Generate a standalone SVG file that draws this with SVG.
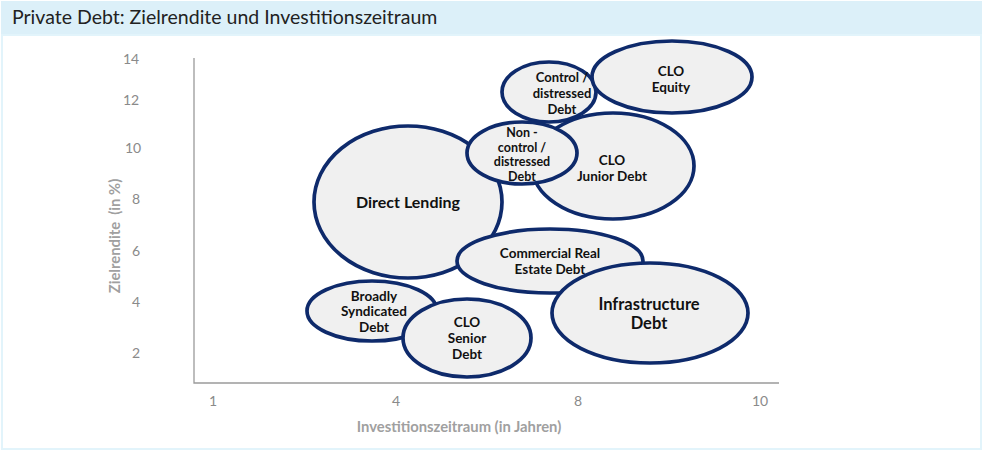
<svg xmlns="http://www.w3.org/2000/svg" width="984" height="451" viewBox="0 0 984 451">
<style>
.bub{fill:#f0f0f0;stroke:#0e2a6b;stroke-width:3.7}
.lbl{font-family:Lato,"Liberation Sans",sans-serif;font-weight:bold;fill:#111;text-anchor:middle}
.tick{font-family:Lato,"Liberation Sans",sans-serif;fill:#8a8a8a;font-size:14px;text-anchor:middle}
.ax{font-family:Lato,"Liberation Sans",sans-serif;fill:#a0a0a0;font-size:14.8px;font-weight:bold;text-anchor:middle}
</style>
<rect x="0" y="0" width="984" height="451" fill="#ffffff"/>
<rect x="1" y="1" width="981" height="33" fill="#dcf0f9"/>
<rect x="2" y="35" width="979" height="414" fill="#ffffff" stroke="#e2f4fb" stroke-width="2"/>
<text x="12" y="24" font-family="Lato,'Liberation Sans',sans-serif" font-size="19.5" fill="#222">Private Debt: Zielrendite und Investitionszeitraum</text>
<g id="axes">
<path d="M194 58 V383 H779" fill="none" stroke="#9a9a9a" stroke-width="1.3"/>
<text class="tick" x="131" y="64">14</text>
<text class="tick" x="131" y="105">12</text>
<text class="tick" x="133" y="153">10</text>
<text class="tick" x="136" y="204">8</text>
<text class="tick" x="136" y="256">6</text>
<text class="tick" x="136" y="307">4</text>
<text class="tick" x="136" y="358">2</text>
<text class="tick" x="213" y="406">1</text>
<text class="tick" x="396" y="406">4</text>
<text class="tick" x="578" y="406">8</text>
<text class="tick" x="760" y="406">10</text>
<text class="ax" x="459" y="432">Investitionszeitraum (in Jahren)</text>
<text class="ax" transform="translate(120,236) rotate(-90)" xml:space="preserve">Zielrendite  (in %)</text>
</g>
<g id="connectors"></g>
<g id="direct-lending">
<ellipse class="bub" cx="408" cy="202" rx="94" ry="76"/>
<text class="lbl" x="408" y="208" font-size="16">Direct Lending</text>
</g>
<g id="clo-junior-debt">
<ellipse class="bub" cx="613" cy="166" rx="81" ry="53"/>
<text class="lbl" font-size="13.5"><tspan x="612" y="165">CLO</tspan><tspan x="612" y="181">Junior Debt</tspan></text>
</g>
<g id="control-distressed-debt">
<ellipse class="bub" cx="549" cy="92" rx="47" ry="30"/>
<text class="lbl" font-size="13"><tspan x="562" y="82">Control /</tspan><tspan x="562" y="98">distressed</tspan><tspan x="562" y="114">Debt</tspan></text>
</g>
<g id="clo-equity">
<ellipse class="bub" cx="672" cy="77" rx="80" ry="36"/>
<text class="lbl" font-size="13.5"><tspan x="671" y="76">CLO</tspan><tspan x="671" y="92">Equity</tspan></text>
</g>
<g id="non-control-distressed-debt">
<ellipse class="bub" cx="522" cy="153" rx="55" ry="31"/>
<text class="lbl" font-size="12.5"><tspan x="522" y="137">Non -</tspan><tspan x="522" y="152">control /</tspan><tspan x="522" y="166">distressed</tspan><tspan x="522" y="181">Debt</tspan></text>
</g>
<g id="commercial-real-estate-debt">
<ellipse class="bub" cx="550" cy="261" rx="93" ry="32"/>
<text class="lbl" font-size="13.5"><tspan x="550" y="258">Commercial Real</tspan><tspan x="550" y="274">Estate Debt</tspan></text>
</g>
<g id="infrastructure-debt">
<ellipse class="bub" cx="650" cy="313" rx="98" ry="50"/>
<text class="lbl" font-size="16.5"><tspan x="649" y="310">Infrastructure</tspan><tspan x="649" y="329">Debt</tspan></text>
</g>
<g id="broadly-syndicated-debt">
<ellipse class="bub" cx="372" cy="311" rx="65" ry="30"/>
<text class="lbl" font-size="13.5"><tspan x="374" y="301">Broadly</tspan><tspan x="374" y="316">Syndicated</tspan><tspan x="374" y="332">Debt</tspan></text>
</g>
<g id="clo-senior-debt">
<ellipse class="bub" cx="467" cy="338" rx="64" ry="39"/>
<text class="lbl" font-size="13.5"><tspan x="467" y="327">CLO</tspan><tspan x="467" y="343">Senior</tspan><tspan x="467" y="359">Debt</tspan></text>
</g>
</svg>
